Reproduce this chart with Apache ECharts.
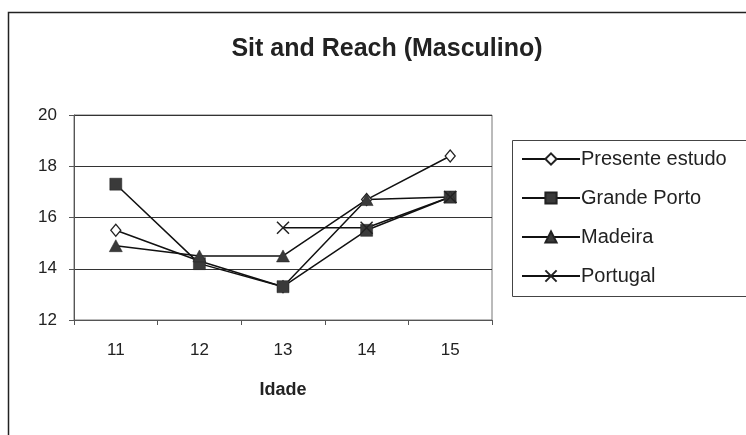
<!DOCTYPE html>
<html><head><meta charset="utf-8">
<script src="https://cdn.jsdelivr.net/npm/echarts@6/dist/echarts.min.js"></script>
<style>html,body{margin:0;padding:0;background:#fff}#c{width:746px;height:435px}</style>
</head><body><div id="c"></div>
<script>
const categories = ['11','12','13','14','15'];
const presenteEstudo = [15.5, 14.3, 13.3, 16.7, 18.4];
const grandePorto = [17.3, 14.2, 13.3, 15.5, 16.8];
const madeira = [14.9, 14.5, 14.5, 16.7, 16.8];
const portugal = [null, null, 15.6, 15.6, 16.8];
const seriesNames = ['Presente estudo','Grande Porto','Madeira','Portugal'];

const font = '"Liberation Sans", Arial, sans-serif';
const chart = echarts.init(document.getElementById('c'), null, {renderer:'canvas'});
const lineStyle = {color:'#111', width:1.5};
const xPath = 'path://M0,0L10,10M10,0L0,10';
chart.setOption({
  animation:false,
  backgroundColor:'#fff',
  title:{text:'Sit and Reach (Masculino)', left:382, top:32, textAlign:'center',
    textStyle:{fontFamily:font, fontSize:25, fontWeight:'bold', color:'#222'}},
  graphic:[
    {type:'rect', shape:{x:8.5,y:12.5,width:760,height:440}, style:{fill:'none',stroke:'#222',lineWidth:1.5}, silent:true, z:-1},
    {type:'rect', shape:{x:512.5,y:140.5,width:260,height:156}, style:{fill:'#fff',stroke:'#444',lineWidth:1}, silent:true, z:-1}
  ],
  legend:{left:516, top:144, orient:'vertical', itemGap:19, itemWidth:58, itemHeight:14,
    data:seriesNames,
    textStyle:{fontFamily:font, fontSize:20, color:'#222', padding:[0,0,0,-4]}},
  grid:{left:74, right:254, top:115, bottom:115, show:true, borderColor:'#777', borderWidth:1},
  xAxis:{type:'category', data:categories, boundaryGap:true, name:'Idade', nameLocation:'middle', nameGap:61,
    nameTextStyle:{fontFamily:font, fontSize:18, fontWeight:'bold', color:'#222'},
    axisLine:{lineStyle:{color:'#555', width:1}},
    axisTick:{show:true, length:5, lineStyle:{color:'#555'}},
    axisLabel:{fontFamily:font, fontSize:17, color:'#222', margin:22}},
  yAxis:{type:'value', min:12, max:20, interval:2,
    axisLine:{show:true, lineStyle:{color:'#555'}},
    axisTick:{show:true, length:5, lineStyle:{color:'#555'}},
    axisLabel:{fontFamily:font, fontSize:17, color:'#222', margin:17},
    splitLine:{lineStyle:{color:'#333', width:1}}},
  series:[
    {name:seriesNames[0], type:'line', data:presenteEstudo, symbol:'diamond', symbolSize:[10,12],
      lineStyle, itemStyle:{color:'#fff', borderColor:'#222', borderWidth:1.3}},
    {name:seriesNames[1], type:'line', data:grandePorto, symbol:'rect', symbolSize:12,
      lineStyle, itemStyle:{color:'#3a3a3a', borderColor:'#222', borderWidth:0.5}},
    {name:seriesNames[2], type:'line', data:madeira, symbol:'triangle', symbolSize:[13,12],
      lineStyle, itemStyle:{color:'#3a3a3a', borderColor:'#222', borderWidth:0.5}},
    {name:seriesNames[3], type:'line', data:portugal, symbol:xPath, symbolSize:12,
      lineStyle, itemStyle:{color:'none', borderColor:'#222', borderWidth:1.5}}
  ]
});
</script></body></html>
